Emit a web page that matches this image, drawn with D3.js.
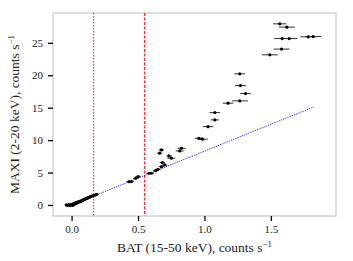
<!DOCTYPE html>
<html>
<head>
<meta charset="utf-8">
<script src="https://cdn.jsdelivr.net/npm/d3@7"></script>
<style>
  body { margin: 0; background: #fff; }
  text { font-family: "Liberation Serif", "DejaVu Serif", serif; }
</style>
</head>
<body>
<div id="chart"></div>
<script>
// BAT rate (x), its error, and MAXI rate (y)
var bat = [-0.04, -0.03, -0.02, -0.01, 0.0, 0.0, 0.01, 0.01, 0.015, 0.02, 0.02, 0.025, 0.03, 0.035, 0.04,
           0.045, 0.05, 0.055, 0.06, 0.065, 0.07, 0.075, 0.08, 0.085, 0.09, 0.095, 0.1, 0.105, 0.11, 0.115,
           0.12, 0.125, 0.13, 0.135, 0.14, 0.145, 0.15, 0.16, 0.17, 0.18, 0.19,
           0.432, 0.45, 0.482, 0.5, 0.583, 0.601, 0.633, 0.65, 0.676, 0.701, 0.683, 0.751, 0.733, 0.663, 0.676,
           0.814, 0.827, 0.985, 0.959, 1.027, 1.078, 1.078, 1.178, 1.266, 1.309, 1.271, 1.266,
           1.492, 1.58, 1.818, 1.781, 1.638, 1.585, 1.62, 1.567];
var batErr = [0.01, 0.01, 0.01, 0.01, 0.01, 0.01, 0.01, 0.01, 0.01, 0.01, 0.01, 0.01, 0.01, 0.01, 0.01,
              0.01, 0.01, 0.01, 0.01, 0.01, 0.01, 0.01, 0.01, 0.01, 0.01, 0.01, 0.01, 0.01, 0.01, 0.01,
              0.01, 0.01, 0.01, 0.01, 0.01, 0.01, 0.01, 0.01, 0.01, 0.01, 0.01,
              0.02, 0.02, 0.02, 0.02, 0.02, 0.02, 0.02, 0.02, 0.02, 0.02, 0.02, 0.03, 0.02, 0.02, 0.02,
              0.03, 0.03, 0.04, 0.03, 0.04, 0.03, 0.04, 0.04, 0.06, 0.04, 0.04, 0.04,
              0.06, 0.06, 0.06, 0.06, 0.06, 0.06, 0.06, 0.05];
var maxi = [0.0, -0.05, 0.05, -0.1, 0.0, 0.1, 0.05, -0.05, 0.2, 0.1, 0.25, 0.3, 0.2, 0.35, 0.3,
            0.45, 0.4, 0.5, 0.55, 0.5, 0.65, 0.6, 0.7, 0.75, 0.8, 0.85, 0.9, 0.95, 1.0, 1.0,
            1.1, 1.1, 1.15, 1.2, 1.25, 1.3, 1.35, 1.4, 1.5, 1.55, 1.65,
            3.6, 3.6, 4.12, 4.37, 4.89, 4.89, 5.29, 5.51, 5.91, 6.17, 6.53, 7.21, 7.56, 7.98, 8.49,
            8.33, 8.75, 10.14, 10.29, 12.08, 13.12, 14.24, 15.69, 16.05, 17.18, 18.41, 20.22,
            23.15, 24.03, 25.97, 25.93, 25.66, 25.66, 27.42, 27.93];

// linear relation and the two thresholds
var fitX = [0, 1.82];
var fitY = [0, 15.1];
var dottedX = 0.166;
var dashedX = 0.55;

var xTicks = [0.0, 0.5, 1.0, 1.5];
var yTicks = [0, 5, 10, 15, 20, 25];

var margin = {top: 13, right: 17, bottom: 45, left: 53},
    width = 353 - margin.left - margin.right,
    height = 261 - margin.top - margin.bottom;

var svg = d3.select("#chart")
  .append("svg")
    .attr("width", 353)
    .attr("height", 261)
  .append("g")
    .attr("transform", "translate(" + margin.left + "," + margin.top + ")");

var x = d3.scaleLinear().domain([-0.14, 1.99]).range([0, width]);
var y = d3.scaleLinear().domain([-1.7, 29.6]).range([height, 0]);

// frame
svg.append("rect")
  .attr("width", width).attr("height", height)
  .attr("fill", "none").attr("stroke", "#c8c8c8").attr("stroke-width", 1.2);

// axes
var xAxis = svg.append("g")
  .attr("transform", "translate(0," + height + ")")
  .call(d3.axisBottom(x).tickValues(xTicks).tickFormat(d3.format(".1f")).tickSize(5).tickPadding(4));
var yAxis = svg.append("g")
  .call(d3.axisLeft(y).tickValues(yTicks).tickSize(5).tickPadding(5));
[xAxis, yAxis].forEach(function(a) {
  a.attr("font-family", null);
  a.select(".domain").remove();
  a.selectAll(".tick line").attr("stroke", "#000").attr("stroke-width", 1.3);
  a.selectAll(".tick text").style("font-size", "11px").attr("fill", "#222");
});

// vertical threshold lines
svg.append("line")
  .attr("x1", x(dottedX)).attr("x2", x(dottedX)).attr("y1", 0).attr("y2", height)
  .attr("stroke", "#ff2020").attr("stroke-width", 1).attr("stroke-dasharray", "1.5,1.5");
svg.append("line")
  .attr("x1", x(dashedX)).attr("x2", x(dashedX)).attr("y1", 0).attr("y2", height)
  .attr("stroke", "#f33").attr("stroke-width", 1.4).attr("stroke-dasharray", "3,1.5");

// linear line
svg.append("path")
  .datum(d3.zip(fitX, fitY))
  .attr("fill", "none").attr("stroke", "blue").attr("stroke-width", 0.9)
  .attr("stroke-dasharray", "1,1")
  .attr("d", d3.line().x(function(d) { return x(d[0]); }).y(function(d) { return y(d[1]); }));

// error bars and points
var pts = d3.range(bat.length).map(function(i) { return {x: bat[i], e: batErr[i], y: maxi[i]}; });
svg.selectAll(".err").data(pts).enter().append("line")
  .attr("x1", function(d) { return x(d.x - d.e); })
  .attr("x2", function(d) { return x(d.x + d.e); })
  .attr("y1", function(d) { return y(d.y); })
  .attr("y2", function(d) { return y(d.y); })
  .attr("stroke", "#333").attr("stroke-width", 1);
svg.selectAll(".pt").data(pts).enter().append("circle")
  .attr("cx", function(d) { return x(d.x); })
  .attr("cy", function(d) { return y(d.y); })
  .attr("r", 1.6).attr("fill", "#000");

// axis labels
var xl = svg.append("text")
  .attr("x", width / 2).attr("y", height + 36)
  .attr("text-anchor", "middle").style("font-size", "13.5px").attr("fill", "#222");
xl.append("tspan").text("BAT (15-50 keV), counts s");
xl.append("tspan").attr("dy", -5.5).style("font-size", "9px").text("\u22121");

var yl = svg.append("text")
  .attr("transform", "translate(" + (-34) + "," + (height / 2) + ") rotate(-90)")
  .attr("text-anchor", "middle").style("font-size", "13.5px").attr("fill", "#222");
yl.append("tspan").text("MAXI (2-20 keV), counts s");
yl.append("tspan").attr("dy", -5.5).style("font-size", "9px").text("\u22121");
</script>
</body>
</html>
